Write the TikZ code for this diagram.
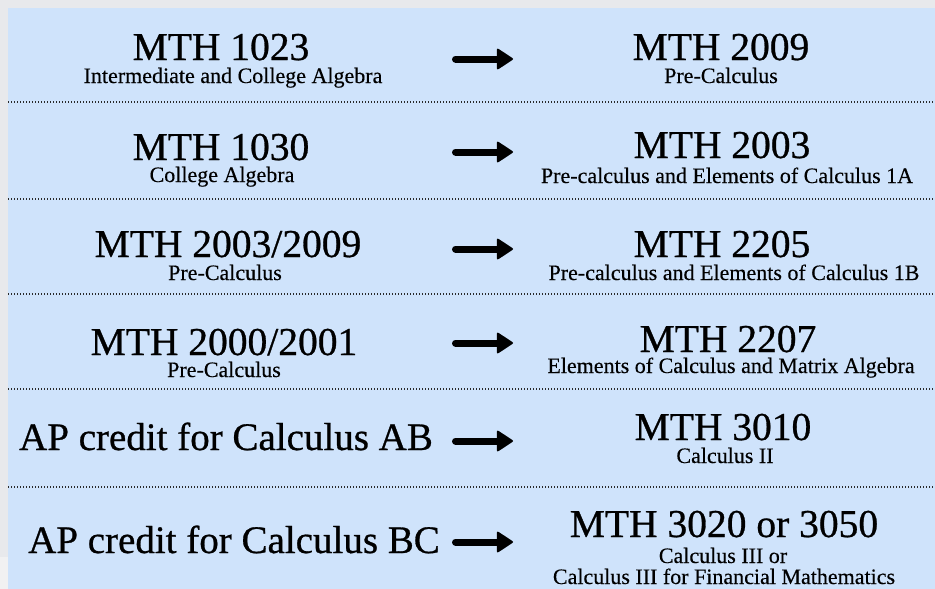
\documentclass[tikz,border=0pt]{standalone}
\usepackage{fontspec}
\setmainfont{Liberation Serif}
\newfontfamily\heavyserif{Liberation Serif}[FakeBold=0.7]
\newfontfamily\subserif{Liberation Serif}[FakeBold=0.3]
\usetikzlibrary{arrows.meta}
\definecolor{bggray}{HTML}{E8E9EC}
\definecolor{bglight}{HTML}{F1F1F2}
\definecolor{panelblue}{HTML}{CFE3FB}
\definecolor{dotgray}{HTML}{2A2A2A}
\tikzset{
  coursetitle/.style={anchor=base, inner sep=0pt, text depth=0pt, font=\heavyserif\fontsize{39.5}{40}\selectfont},
  coursesub/.style={anchor=base, inner sep=0pt, font=\subserif\fontsize{22}{22}\selectfont},
  apcredit/.style={anchor=base, inner sep=0pt, font=\heavyserif\fontsize{39}{40}\selectfont},
  rowline/.style={dotgray, line width=1.3pt, dash pattern=on 1.3pt off 1.7pt},
  goarrow/.style={line width=7pt, line cap=round,
    -{Triangle[length=17pt, width=22pt, line width=2pt, round]}}
}
\begin{document}
\begin{tikzpicture}[x=1pt, y=-1pt]
\useasboundingbox (0,0) rectangle (935,589);
\fill[bggray] (0,0) rectangle (935,589);
\fill[bglight] (0,557) rectangle (8,589);
\fill[panelblue] (8,8) rectangle (935,589);

% row separators
\foreach \yy in {102,199,294,389,487}
  \draw[rowline] (8,\yy) -- (935,\yy);

% row 1
\node[coursetitle] (l1) at (221,60) {MTH 1023};
\node[coursesub] (l1s) at (233,83) {Intermediate and College Algebra};
\node[coursetitle] (r1) at (721,60) {MTH 2009};
\node[coursesub] (r1s) at (721,83) {Pre-Calculus};
% row 2
\node[coursetitle] (l2) at (221,160) {MTH 1030};
\node[coursesub] (l2s) at (222,182) {College Algebra};
\node[coursetitle] (r2) at (722,158) {MTH 2003};
\node[coursesub] (r2s) at (727,183) {Pre-calculus and Elements of Calculus 1A};
% row 3
\node[coursetitle] (l3) at (228,257) {MTH 2003/2009};
\node[coursesub] (l3s) at (225,280) {Pre-Calculus};
\node[coursetitle] (r3) at (722,257) {MTH 2205};
\node[coursesub] (r3s) at (734,280) {Pre-calculus and Elements of Calculus 1B};
% row 4
\node[coursetitle] (l4) at (224,355) {MTH 2000/2001};
\node[coursesub] (l4s) at (224,377) {Pre-Calculus};
\node[coursetitle] (r4) at (728,352) {MTH 2207};
\node[coursesub] (r4s) at (731,373) {Elements of Calculus and Matrix Algebra};
% row 5
\node[apcredit] (l5) at (226,450) {AP credit for Calculus AB};
\node[coursetitle] (r5) at (723,440) {MTH 3010};
\node[coursesub] (r5s) at (725,463) {Calculus II};
% row 6
\node[apcredit] (l6) at (234,553) {AP credit for Calculus BC};
\node[coursetitle] (r6) at (724,537) {MTH 3020 or 3050};
\node[coursesub, text depth=0pt] (r6s) at (723,563) {Calculus III or};
\node[coursesub] (r6t) at (724,584) {Calculus III for Financial Mathematics};

% arrows
\foreach \n/\yy in {1/59,2/152,3/249,4/343,5/441,6/542}{
  \coordinate (as\n) at (455.5,\yy);
  \coordinate (ae\n) at (513,\yy);
  \draw[goarrow] (as\n) -- (ae\n);
}
\end{tikzpicture}
\end{document}
